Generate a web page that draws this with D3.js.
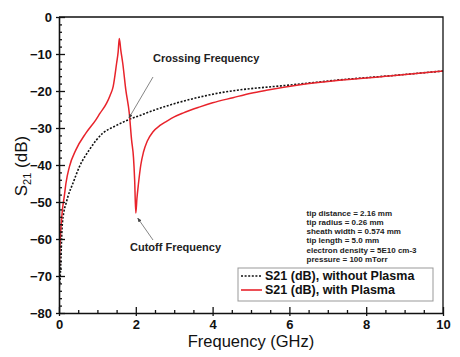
<!DOCTYPE html>
<html><head><meta charset="utf-8">
<script src="https://cdn.jsdelivr.net/npm/d3@7/dist/d3.min.js"></script>
<style>
body{margin:0;background:#fff;}
svg{display:block;font-family:"Liberation Sans",Arial,Helvetica,sans-serif;}
</style></head>
<body>
<svg id="chart" width="460" height="357"></svg>
<script>
// ---- data ----
const freqNoPlasma = [0.005,0.03,0.08,0.13,0.18,0.23,0.36,0.53,0.79,1.14,1.44,1.8,2.11,2.5,2.98,3.4,3.85,4.3,4.71,5.58,6.0,7.3,8.6,10];
const s21NoPlasma  = [-73,-70.5,-57,-52.5,-50.5,-48.6,-45,-40.5,-35.9,-31.4,-29.6,-27.8,-26.6,-25.1,-23.5,-22.3,-21.2,-20.3,-19.7,-18.8,-18.4,-17.0,-15.9,-14.6];
const freqPlasma = [0.003,0.02,0.05,0.09,0.14,0.18,0.27,0.44,0.70,0.96,1.07,1.24,1.33,1.41,1.50,1.54,1.57,1.61,1.66,1.74,1.83,1.89,1.94,1.97,2.0,2.03,2.07,2.13,2.2,2.3,2.45,2.63,2.8,3.0,3.24,3.67,4.0,4.53,5.0,5.4,6.28,7.3,8.6,10];
const s21Plasma  = [-69,-63,-57,-52,-48.3,-45,-40.5,-35.9,-31.4,-27.8,-26,-23.3,-21.2,-18.8,-12.5,-9.5,-5.8,-9,-12.5,-19.7,-26,-33.2,-38,-44,-53,-49,-45,-40,-36.5,-33.5,-31,-29.3,-28.2,-27.0,-25.9,-24.3,-23.2,-21.8,-20.6,-19.8,-18.3,-17.1,-15.95,-14.6];
const xTicks = [0,2,4,6,8,10];
const yTicks = [0,-10,-20,-30,-40,-50,-60,-70,-80];
const legendLabels = ["S21 (dB), without Plasma","S21 (dB), with Plasma"];
const infoLines = ["tip distance = 2.16 mm","tip radius = 0.26 mm","sheath width = 0.574 mm","tip length = 5.0 mm","electron density = 5E10 cm-3","pressure = 100 mTorr"];

// ---- layout ----
const svg = d3.select("#chart");
const m = {l:59, t:17, r:17, b:44};
const W = 460 - m.l - m.r, H = 357 - m.t - m.b;
const x = d3.scaleLinear().domain([0,10]).range([m.l, m.l+W]);
const y = d3.scaleLinear().domain([-80,0]).range([m.t+H, m.t]);
const red = "#e8232b";

svg.append("defs").append("marker").attr("id","arr").attr("viewBox","0 0 10 10")
  .attr("refX",9).attr("refY",5).attr("markerWidth",5).attr("markerHeight",5).attr("orient","auto")
  .append("path").attr("d","M0,1 L10,5 L0,9 z").attr("fill","#444");

svg.append("clipPath").attr("id","clip").append("rect").attr("x",m.l).attr("y",m.t).attr("width",W).attr("height",H);

const line = d3.line().x(d=>x(d[0])).y(d=>y(d[1])).curve(d3.curveMonotoneX);
const g = svg.append("g").attr("clip-path","url(#clip)");
g.append("path").datum(freqNoPlasma.map((f,i)=>[f,s21NoPlasma[i]]))
  .attr("d",line).attr("fill","none").attr("stroke","#111").attr("stroke-width",1.6).attr("stroke-dasharray","2,1.6");
g.append("path").datum(freqPlasma.map((f,i)=>[f,s21Plasma[i]]))
  .attr("d",line).attr("fill","none").attr("stroke",red).attr("stroke-width",1.5);

// frame
svg.append("path").attr("d",`M${m.l},${m.t}H${m.l+W}V${m.t+H}`).attr("fill","none").attr("stroke","#111").attr("stroke-width",1.3);

// axes: tick marks
const xAxis = svg.append("g").attr("transform",`translate(0,${m.t+H})`);
xAxis.call(d3.axisBottom(x).tickValues(d3.range(0,10.01,0.5)).tickSize(0).tickFormat(""));
xAxis.selectAll(".tick line, .tick text").remove();
xAxis.select(".domain").attr("stroke","#111").attr("stroke-width",1.6);
xAxis.selectAll(".tick").append("line").attr("y1",d=>xTicks.includes(d)?3:0).attr("y2",d=>xTicks.includes(d)?-6:-3).attr("stroke","#111").attr("stroke-width",1.3);
const xLab = svg.append("g").attr("transform",`translate(0,${m.t+H})`)
  .call(d3.axisBottom(x).tickValues(xTicks).tickSize(0).tickPadding(7).tickFormat(d3.format("d")));
xLab.select(".domain").remove();
xLab.selectAll("text").attr("font-size",13).attr("font-weight","bold").attr("fill","#111").attr("font-family","Liberation Sans, Arial, sans-serif");

const yAxis = svg.append("g").attr("transform",`translate(${m.l},0)`);
yAxis.call(d3.axisLeft(y).tickValues(d3.range(-80,0.01,2)).tickSize(0).tickFormat(""));
yAxis.selectAll(".tick line, .tick text").remove();
yAxis.select(".domain").attr("stroke","#111").attr("stroke-width",1.6);
yAxis.selectAll(".tick").append("line").attr("x1",d=>yTicks.includes(d)?-3:0).attr("x2",d=>yTicks.includes(d)?6:3).attr("stroke","#111").attr("stroke-width",1.3);
const yLab = svg.append("g").attr("transform",`translate(${m.l},0)`)
  .call(d3.axisLeft(y).tickValues(yTicks).tickSize(0).tickPadding(7).tickFormat(d3.format("d")));
yLab.select(".domain").remove();
yLab.selectAll("text").attr("font-size",13).attr("font-weight","bold").attr("fill","#111").attr("font-family","Liberation Sans, Arial, sans-serif");

// axis titles
svg.append("text").attr("x",m.l+W/2).attr("y",347).attr("text-anchor","middle").attr("font-size",16.5).attr("fill","#111").text("Frequency (GHz)");
const yt = svg.append("text").attr("transform",`translate(27,${m.t+H/2+1}) rotate(-90)`).attr("text-anchor","middle").attr("font-size",17).attr("fill","#111");
yt.append("tspan").text("S");
yt.append("tspan").attr("font-size",11).attr("dy",4).text("21");
yt.append("tspan").attr("dy",-4).text(" (dB)");

// annotations
svg.append("text").attr("x",153).attr("y",62).attr("font-size",11).attr("font-weight","bold").attr("fill","#222").text("Crossing Frequency");
svg.append("line").attr("x1",153).attr("y1",77).attr("x2",x(1.82)).attr("y2",y(-27.6)-1).attr("stroke","#777").attr("stroke-width",0.9).attr("marker-end","url(#arr)");
svg.append("text").attr("x",130).attr("y",251).attr("font-size",11).attr("font-weight","bold").attr("fill","#222").text("Cutoff Frequency");
svg.append("line").attr("x1",153).attr("y1",240).attr("x2",x(2.05)).attr("y2",y(-53)+5).attr("stroke","#777").attr("stroke-width",0.9).attr("marker-end","url(#arr)");

// info text
svg.append("g").selectAll("text").data(infoLines).join("text")
  .attr("x",306.5).attr("y",(d,i)=>215.5+i*9.3).attr("font-size",8).attr("font-weight","bold").attr("fill","#222").text(d=>d);

// legend
svg.append("rect").attr("x",238).attr("y",268).attr("width",195).attr("height",33).attr("fill","#fff").attr("stroke","#999").attr("stroke-width",1);
const lg = svg.append("g");
[0,1].forEach(i=>{
  const yy = 280+i*14;
  lg.append("line").attr("x1",241).attr("x2",262).attr("y1",yy-4).attr("y2",yy-4)
    .attr("stroke",i===0?"#111":red).attr("stroke-width",1.6).attr("stroke-dasharray",i===0?"2,1.6":null);
  lg.append("text").attr("x",265).attr("y",yy).attr("font-size",12.5).attr("font-weight","bold").attr("fill","#111").text(legendLabels[i]);
});
</script>
</body></html>
